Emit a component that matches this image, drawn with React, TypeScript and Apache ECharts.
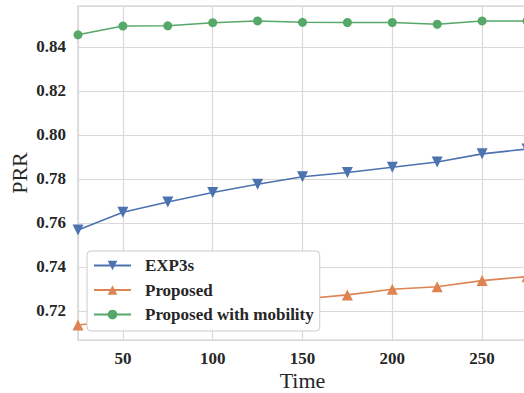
import React, { useEffect, useRef } from "react";
import * as echarts from "echarts";

const times = [25, 50, 75, 100, 125, 150, 175, 200, 225, 250, 275];
const exp3s = [0.7568, 0.7649, 0.7695, 0.7738, 0.7776, 0.7810, 0.7829, 0.7853, 0.7877, 0.7914, 0.7936];
const proposed = [0.7136, 0.7158, 0.7182, 0.7206, 0.7230, 0.7254, 0.7273, 0.7299, 0.7310, 0.7338, 0.7356];
const proposedMobility = [0.8455, 0.8495, 0.8496, 0.8510, 0.8518, 0.8512, 0.8511, 0.8511, 0.8503, 0.8518, 0.8518];

const FONT = "'Liberation Serif', 'Times New Roman', serif";

export default function App() {
  const ref = useRef<HTMLDivElement>(null);
  useEffect(() => {
    document.body.style.margin = "0";
    const chart = echarts.init(ref.current!, null, { renderer: "svg" });
    const mk = (arr: number[]) => times.map((t, i) => [t, arr[i]]);
    const tickLabel = {
      showMinLabel: false,
      showMaxLabel: false,
      fontFamily: FONT,
      fontSize: 17,
      fontWeight: "bold",
      color: "#262626",
    };
    chart.setOption({
      animation: false,
      backgroundColor: "#ffffff",
      textStyle: { fontFamily: FONT },
      grid: {
        left: 78,
        top: 6,
        width: 449,
        height: 334,
        containLabel: false,
        outerBoundsMode: "none",
        show: true,
        borderColor: "#cccccc",
        borderWidth: 1.2,
        backgroundColor: "transparent",
      },
      xAxis: {
        type: "value",
        min: 25,
        max: 275,
        splitNumber: 5,
        name: "Time",
        nameLocation: "middle",
        nameGap: 29,
        nameMoveOverlap: false,
        nameTextStyle: { fontFamily: FONT, fontSize: 22, color: "#262626" },
        axisLine: { show: false },
        axisTick: { show: false },
        axisLabel: { ...tickLabel, margin: 10 },
        splitLine: { show: true, lineStyle: { color: "#d9d9d9", width: 1.2 } },
      },
      yAxis: {
        type: "value",
        min: 0.7068,
        max: 0.8586,
        splitNumber: 7,
        name: "PRR",
        nameLocation: "middle",
        nameGap: 48,
        nameMoveOverlap: false,
        nameTextStyle: { fontFamily: FONT, fontSize: 22, color: "#262626" },
        axisLine: { show: false },
        axisTick: { show: false },
        axisLabel: { ...tickLabel, margin: 12, formatter: (v: number) => v.toFixed(2) },
        splitLine: { show: true, lineStyle: { color: "#d9d9d9", width: 1.2 } },
      },
      legend: {
        orient: "vertical",
        left: 87,
        top: 251,
        padding: [6, 6, 8, 6],
        itemGap: 7.5,
        itemWidth: 37,
        itemHeight: 12,
        backgroundColor: "#ffffff",
        borderColor: "#cccccc",
        borderWidth: 1,
        borderRadius: 4,
        z: 10,
        textStyle: {
          fontFamily: FONT,
          fontSize: 17,
          fontWeight: "bold",
          color: "#262626",
          lineHeight: 17,
          padding: [0, 0, 0, 9],
        },
        data: ["EXP3s", "Proposed", "Proposed with mobility"],
      },
      series: [
        {
          name: "EXP3s",
          type: "line",
          data: mk(exp3s),
          symbol: "triangle",
          symbolRotate: 180,
          symbolSize: 11,
          color: "#4c72b0",
          lineStyle: { width: 1.6, color: "#4c72b0" },
          itemStyle: { color: "#4c72b0" },
          z: 3,
        },
        {
          name: "Proposed",
          type: "line",
          data: mk(proposed),
          symbol: "triangle",
          symbolSize: 11,
          color: "#dd8452",
          lineStyle: { width: 1.6, color: "#dd8452" },
          itemStyle: { color: "#dd8452" },
          z: 3,
        },
        {
          name: "Proposed with mobility",
          type: "line",
          data: mk(proposedMobility),
          symbol: "circle",
          symbolSize: 9,
          color: "#55a868",
          lineStyle: { width: 1.6, color: "#55a868" },
          itemStyle: { color: "#55a868" },
          z: 3,
        },
      ],
    });
    return () => chart.dispose();
  }, []);
  return <div ref={ref} style={{ width: 524, height: 393 }} />;
}
